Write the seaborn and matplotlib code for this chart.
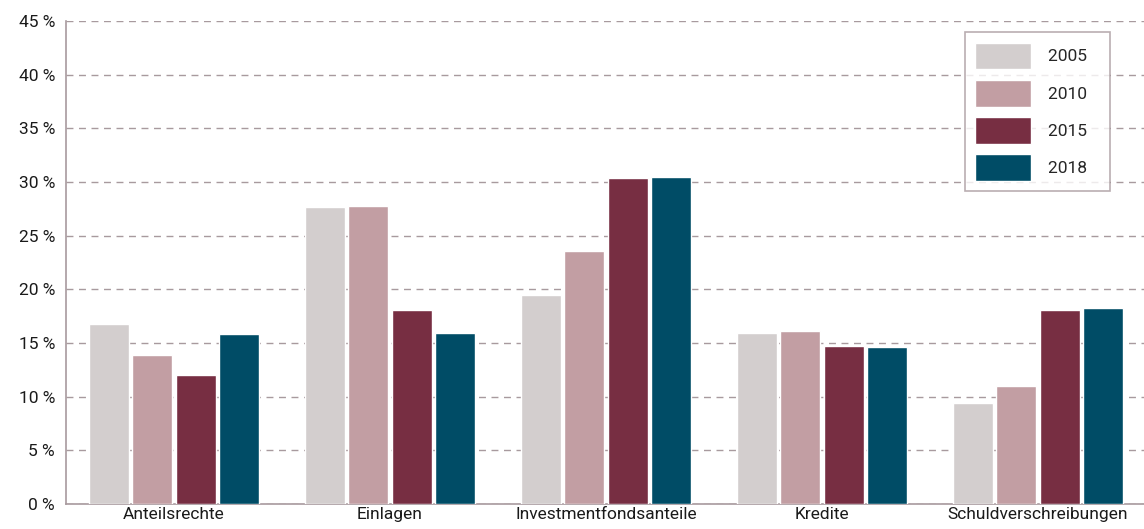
import matplotlib
matplotlib.use("Agg")
import matplotlib.pyplot as plt
import seaborn as sns
import pandas as pd
from matplotlib.ticker import FuncFormatter

categories = ["Anteilsrechte", "Einlagen", "Investmentfondsanteile", "Kredite", "Schuldverschreibungen"]
years = ["2005", "2010", "2015", "2018"]
share_2005 = [16.8, 27.7, 19.5, 15.9, 9.4]
share_2010 = [13.9, 27.8, 23.6, 16.1, 11.0]
share_2015 = [12.0, 18.1, 30.4, 14.7, 18.1]
share_2018 = [15.8, 15.9, 30.5, 14.6, 18.3]
colors = ["#D3CECE", "#C29EA3", "#772E42", "#004C66"]

rows = []
for year, vals in zip(years, [share_2005, share_2010, share_2015, share_2018]):
    for cat, v in zip(categories, vals):
        rows.append({"Kategorie": cat, "Jahr": year, "Anteil": v})
df = pd.DataFrame(rows)

sns.set_style("white")
plt.rcParams["font.family"] = ["Roboto", "DejaVu Sans"]
grey = "#A89A9E"
fs = 12.5

fig = plt.figure(figsize=(11.44, 5.29), dpi=100)
ax = fig.add_axes([66 / 1144, 25 / 529, 1080 / 1144, 483 / 529])

sns.barplot(data=df, x="Kategorie", y="Anteil", hue="Jahr", order=categories,
            hue_order=years, palette=colors, width=0.8, gap=0.07,
            saturation=1, ax=ax, zorder=3)

ax.set_ylim(0, 45)
ax.set_xlim(-0.5, 4.5)
ax.set_yticks(range(0, 50, 5))
ax.yaxis.set_major_formatter(FuncFormatter(lambda v, p: f"{int(v)} %"))
ax.set_xlabel("")
ax.set_ylabel("")
ax.tick_params(axis="both", length=0, labelsize=fs, colors="#1a1a1a")
ax.tick_params(axis="y", pad=8)
ax.tick_params(axis="x", pad=2)

ax.grid(axis="y", linestyle=(0, (5, 4)), color=grey, linewidth=1, zorder=0)
ax.grid(axis="x", visible=False)
for side in ["top", "right"]:
    ax.spines[side].set_visible(False)
for side in ["left", "bottom"]:
    ax.spines[side].set_color(grey)
    ax.spines[side].set_linewidth(1.2)

handles, labels = ax.get_legend_handles_labels()
labels = [lab + "   " for lab in labels]
leg = ax.legend(handles, labels, loc="upper right", bbox_to_anchor=(0.967, 0.977),
                fontsize=fs, handlelength=3.2, handleheight=2.0, labelspacing=0.6,
                handletextpad=1.0, borderpad=0.6, borderaxespad=0,
                frameon=True, fancybox=False)
leg.get_frame().set_edgecolor(grey)
leg.get_frame().set_linewidth(1.2)

fig.savefig("out.png", dpi=100)
